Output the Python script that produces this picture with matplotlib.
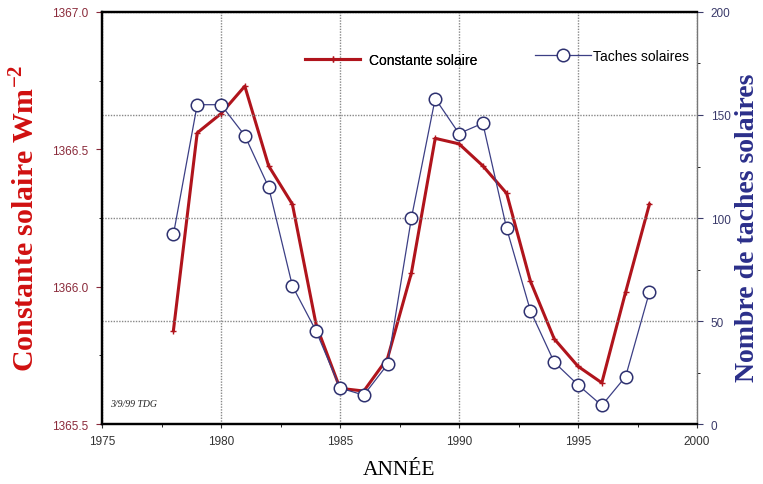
import matplotlib
matplotlib.use('Agg')
import matplotlib.pyplot as plt
from matplotlib.ticker import MultipleLocator

# valeurs
annees = [1978, 1979, 1980, 1981, 1982, 1983, 1984, 1985, 1986, 1987, 1988,
          1989, 1990, 1991, 1992, 1993, 1994, 1995, 1996, 1997, 1998]
constante = [1365.84, 1366.56, 1366.63, 1366.73, 1366.44, 1366.30, 1365.86,
             1365.63, 1365.62, 1365.74, 1366.05, 1366.54, 1366.52, 1366.44,
             1366.34, 1366.02, 1365.81, 1365.71, 1365.65, 1365.98, 1366.30]
taches = [92, 155, 155, 140, 115, 67, 45, 17.5, 14, 29, 100,
          158, 141, 146, 95, 55, 30, 19, 9, 23, 64]

rouge = '#b0141c'
bleu = '#3c3f85'

plt.rcParams['mathtext.fontset'] = 'custom'
plt.rcParams['mathtext.rm'] = 'Liberation Serif'
plt.rcParams['mathtext.bf'] = 'Liberation Serif:bold'

fig = plt.figure(figsize=(7.63, 4.85), dpi=100)
ax1 = fig.add_axes([0.1337, 0.1237, 0.7798, 0.8495])
ax2 = ax1.twinx()

ax1.plot(annees, constante, color=rouge, lw=2.2, marker='+', ms=4, mew=1,
         label='Constante solaire')
ax2.plot(annees, taches, color=bleu, lw=0.9, marker='o', ms=9,
         mfc='white', mec='#2e3170', mew=1.1, label='Taches solaires')

ax1.set_xlim(1975, 2000)
ax1.set_ylim(1365.5, 1367.0)
ax2.set_ylim(0, 200)

ax1.xaxis.set_major_locator(MultipleLocator(5))
ax1.xaxis.set_minor_locator(MultipleLocator(2.5))
ax1.yaxis.set_major_locator(MultipleLocator(0.5))
ax1.yaxis.set_minor_locator(MultipleLocator(0.25))
ax2.yaxis.set_major_locator(MultipleLocator(50))
ax2.yaxis.set_minor_locator(MultipleLocator(25))
ax1.yaxis.set_major_formatter(plt.FormatStrFormatter('%.1f'))

grille = dict(ls=(0, (1, 1)), color='#888888', lw=1)
ax1.grid(axis='x', which='major', **grille)
ax2.grid(axis='y', which='major', **grille)

for s in ['left', 'bottom', 'top']:
    ax1.spines[s].set_linewidth(1.6)
    ax2.spines[s].set_linewidth(1.6)
ax2.spines['right'].set_color('#777777')
ax2.spines['right'].set_linewidth(1)
ax1.spines['right'].set_visible(False)

ax1.tick_params(axis='x', labelsize=8.5, colors='#333333', length=3, pad=5,
                labelfontfamily='Liberation Sans')
ax1.tick_params(axis='x', which='minor', length=2)
ax1.tick_params(axis='y', labelsize=8.5, colors='#8a2a3a', length=4, pad=6,
                labelfontfamily='Liberation Sans')
ax1.tick_params(axis='y', which='minor', length=2)
ax2.tick_params(axis='y', labelsize=8.5, colors='#3a3a6a', length=4, pad=6,
                labelfontfamily='Liberation Sans')
ax2.tick_params(axis='y', which='minor', length=2)

ax1.set_xlabel('ANNÉE', fontfamily='Liberation Serif', fontsize=15.5,
               labelpad=9)
fig.text(25 / 763, 0.5505, r'Constante solaire Wm$^{\mathbf{-2}}$',
         color='#d01010', fontfamily='Liberation Serif', fontweight='bold',
         fontsize=21.5, rotation=90, ha='center', va='center')
fig.text(748 / 763, 0.53, 'Nombre de taches solaires', color='#2b2f8a',
         fontfamily='Liberation Serif', fontweight='bold', fontsize=20,
         rotation=90, ha='center', va='center')

leg1 = ax1.legend(loc='center left', bbox_to_anchor=(0.341, 0.883),
                  frameon=False, borderpad=0, borderaxespad=0,
                  prop={'family': 'Liberation Sans', 'size': 10},
                  handlelength=4, handletextpad=0.6)
ax2.legend(loc='center left', bbox_to_anchor=(0.728, 0.893), frameon=False,
           borderpad=0, borderaxespad=0,
           prop={'family': 'Liberation Sans', 'size': 10},
           handlelength=4, handletextpad=0.15)
ax1.add_artist(leg1)

ax1.text(0.014, 0.05, '3/9/99 TDG', transform=ax1.transAxes, fontsize=7,
         fontfamily='Liberation Serif', style='italic', color='#222222',
         va='center')

plt.savefig('out.png', dpi=100)
